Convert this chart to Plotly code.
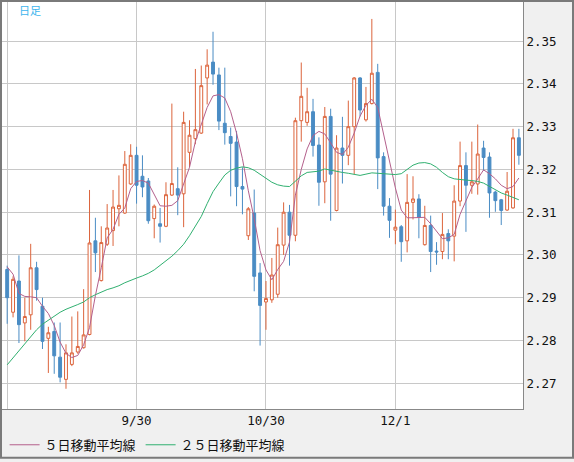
import plotly.graph_objects as go

# daily candles (index 0 = first visible day)
open_ = [2.2966, 2.2866, 2.2939, 2.2841, 2.2860, 2.2970, 2.2880, 2.2805, 2.2821, 2.2761,
         2.2709, 2.2744, 2.2773, 2.2783, 2.2814, 2.3033, 2.2940, 2.3025, 2.3057, 2.3108,
         2.3098, 2.3166, 2.3233, 2.3184, 2.3173, 2.3085, 2.3073, 2.3067, 2.3140, 2.3155,
         2.3143, 2.3240, 2.3272, 2.3285, 2.3414, 2.3451, 2.3421, 2.3308, 2.3277, 2.3264,
         2.3160, 2.3045, 2.3098, 2.2958, 2.2890, 2.2895, 2.2908, 2.3023, 2.3100, 2.3046,
         2.3314, 2.3310, 2.3335, 2.3257, 2.3171, 2.3324, 2.3104, 2.3250, 2.3233, 2.3300,
         2.3414, 2.3316, 2.3354, 2.3427, 2.3230, 2.3114, 2.3058, 2.3066, 2.3033, 2.3123,
         2.3131, 2.3024, 2.3069, 2.3009, 2.3008, 2.3050, 2.3044, 2.3126, 2.3209, 2.3163,
         2.3166, 2.3250, 2.3229, 2.3147, 2.3129, 2.3105, 2.3110, 2.3274]
high = [2.2975, 2.2950, 2.2999, 2.2900, 2.3026, 2.2984, 2.2900, 2.2832, 2.2842, 2.2842,
        2.2791, 2.2856, 2.2868, 2.2920, 2.3152, 2.3087, 2.3067, 2.3119, 2.3152, 2.3186,
        2.3243, 2.3259, 2.3253, 2.3233, 2.3180, 2.3118, 2.3110, 2.3170, 2.3354, 2.3205,
        2.3335, 2.3315, 2.3435, 2.3443, 2.3481, 2.3522, 2.3438, 2.3438, 2.3298, 2.3290,
        2.3205, 2.3112, 2.3153, 2.2981, 2.2939, 2.2993, 2.3064, 2.3123, 2.3117, 2.3321,
        2.3450, 2.3391, 2.3365, 2.3275, 2.3346, 2.3342, 2.3280, 2.3323, 2.3361, 2.3416,
        2.3416, 2.3393, 2.3552, 2.3447, 2.3240, 2.3133, 2.3106, 2.3070, 2.3189, 2.3184,
        2.3142, 2.3115, 2.3092, 2.3030, 2.3098, 2.3060, 2.3163, 2.3265, 2.3240, 2.3265,
        2.3305, 2.3267, 2.3240, 2.3150, 2.3131, 2.3194, 2.3295, 2.3295]
low = [2.2839, 2.2854, 2.2794, 2.2798, 2.2825, 2.2893, 2.2780, 2.2724, 2.2722, 2.2702,
       2.2687, 2.2740, 2.2769, 2.2781, 2.2812, 2.2960, 2.2938, 2.3021, 2.3021, 2.3067,
       2.3096, 2.3164, 2.3120, 2.3135, 2.3073, 2.3039, 2.3029, 2.3065, 2.3138, 2.3093,
       2.3065, 2.3205, 2.3259, 2.3283, 2.3352, 2.3398, 2.3292, 2.3258, 2.3137, 2.3114,
       2.3095, 2.3035, 2.2915, 2.2788, 2.2825, 2.2888, 2.2900, 2.3000, 2.2975, 2.3032,
       2.3265, 2.3302, 2.3230, 2.3115, 2.3121, 2.3080, 2.3102, 2.3167, 2.3210, 2.3189,
       2.3324, 2.3312, 2.3352, 2.3154, 2.3092, 2.3040, 2.3025, 2.2984, 2.3006, 2.3083,
       2.3039, 2.3022, 2.2960, 2.2977, 2.2990, 2.2990, 2.2985, 2.3114, 2.3054, 2.3143,
       2.3141, 2.3197, 2.3087, 2.3101, 2.3070, 2.3103, 2.3108, 2.3211]
close = [2.2900, 2.2943, 2.2837, 2.2856, 2.2970, 2.2919, 2.2798, 2.2818, 2.2764, 2.2714,
         2.2771, 2.2771, 2.2786, 2.2813, 2.3028, 2.3005, 2.3029, 2.3063, 2.3112, 2.3116,
         2.3212, 2.3233, 2.3163, 2.3159, 2.3080, 2.3114, 2.3067, 2.3141, 2.3167, 2.3140,
         2.3310, 2.3280, 2.3293, 2.3396, 2.3444, 2.3423, 2.3313, 2.3286, 2.3261, 2.3160,
         2.3154, 2.3108, 2.2950, 2.2882, 2.2898, 2.2953, 2.3024, 2.3100, 2.3046, 2.3314,
         2.3371, 2.3335, 2.3256, 2.3170, 2.3324, 2.3189, 2.3250, 2.3233, 2.3300, 2.3414,
         2.3339, 2.3354, 2.3425, 2.3227, 2.3114, 2.3081, 2.3065, 2.3031, 2.3123, 2.3131,
         2.3088, 2.3069, 2.3008, 2.3007, 2.3048, 2.3033, 2.3126, 2.3209, 2.3163, 2.3171,
         2.3236, 2.3228, 2.3145, 2.3127, 2.3104, 2.3149, 2.3274, 2.3233]

# moving averages
ma5 = [2.2972, 2.2955, 2.2910, 2.2903, 2.2902, 2.2900, 2.2880, 2.2863, 2.2835, 2.2796,
       2.2770, 2.2760, 2.2765, 2.2790, 2.2830, 2.2905, 2.2970, 2.3040, 2.3060, 2.3095,
       2.3110, 2.3155, 2.3172, 2.3174, 2.3168, 2.3140, 2.3115, 2.3114, 2.3116, 2.3127,
       2.3165, 2.3205, 2.3265, 2.3305, 2.3345, 2.3372, 2.3375, 2.3367, 2.3335, 2.3285,
       2.3225, 2.3150, 2.3085, 2.3010, 2.2965, 2.2942, 2.2966, 2.2985, 2.3030, 2.3140,
       2.3200, 2.3248, 2.3279, 2.3289, 2.3283, 2.3262, 2.3240, 2.3235, 2.3252, 2.3285,
       2.3325, 2.3350, 2.3364, 2.3345, 2.3280, 2.3215, 2.3157, 2.3105, 2.3087, 2.3087,
       2.3087, 2.3088, 2.3073, 2.3055, 2.3038, 2.3040, 2.3048, 2.3095, 2.3125, 2.3158,
       2.3178, 2.3199, 2.3190, 2.3178, 2.3163, 2.3155, 2.3160, 2.3180]
ma25 = [2.2743, 2.2759, 2.2775, 2.2791, 2.2809, 2.2825, 2.2838, 2.2848, 2.2858, 2.2866,
        2.2873, 2.2878, 2.2884, 2.2890, 2.2900, 2.2907, 2.2913, 2.2919, 2.2923, 2.2928,
        2.2935, 2.2941, 2.2946, 2.2951, 2.2957, 2.2965, 2.2975, 2.2986, 2.2997, 2.3010,
        2.3025, 2.3045, 2.3068, 2.3090, 2.3120, 2.3148, 2.3168, 2.3187, 2.3198, 2.3203,
        2.3206, 2.3204, 2.3198, 2.3189, 2.3180, 2.3170, 2.3164, 2.3161, 2.3160, 2.3172,
        2.3185, 2.3193, 2.3194, 2.3196, 2.3201, 2.3198, 2.3195, 2.3193, 2.3191, 2.3189,
        2.3186, 2.3189, 2.3192, 2.3191, 2.3190, 2.3188, 2.3188, 2.3190, 2.3200, 2.3210,
        2.3215, 2.3216, 2.3213, 2.3205, 2.3193, 2.3183, 2.3178, 2.3176, 2.3175, 2.3174,
        2.3172, 2.3168, 2.3160, 2.3152, 2.3145, 2.3140, 2.3135, 2.3129]

day = list(range(len(close)))
tick_pos = [0, 22, 44, 66]
tick_text = ["", "9/30", "10/30", "12/1"]
price_ticks = [2.27, 2.28, 2.29, 2.30, 2.31, 2.32, 2.33, 2.34, 2.35]

RED = "#dc643c"
BLUE = "#4a8cc4"
TICKFONT = dict(family="DejaVu Sans Mono", size=12.5, color="#111111")

fig = go.Figure()
fig.add_trace(go.Candlestick(
    x=day, open=open_, high=high, low=low, close=close,
    increasing=dict(line=dict(color=RED, width=1), fillcolor="white"),
    decreasing=dict(line=dict(color=BLUE, width=1), fillcolor=BLUE),
    showlegend=False, hoverinfo="skip"))
fig.add_trace(go.Scatter(x=day, y=ma5, mode="lines", name="５日移動平均線",
                         line=dict(color="#b4608c", width=1)))
fig.add_trace(go.Scatter(x=day, y=ma25, mode="lines", name="２５日移動平均線",
                         line=dict(color="#30b070", width=1)))

fig.update_layout(
    width=574, height=462,
    margin=dict(l=2, r=51, t=2, b=50),
    paper_bgcolor="#f0f0f0",
    plot_bgcolor="white",
    boxgap=0.3,
    showlegend=True,
    legend=dict(orientation="h", x=0.005, xanchor="left", y=-0.088, yanchor="middle",
                font=dict(family="Noto Sans CJK JP", size=13, color="#111111"),
                bgcolor="rgba(0,0,0,0)"),
    xaxis=dict(range=[-0.88, 87.7], tickvals=tick_pos, ticktext=tick_text,
               showgrid=True, gridcolor="#c8c8c8", gridwidth=1, zeroline=False,
               showline=True, linecolor="#888888", linewidth=1, mirror=True,
               automargin=False, ticks="", tickfont=TICKFONT,
               rangeslider=dict(visible=False)),
    yaxis=dict(range=[2.26397, 2.35916], side="right", tickvals=price_ticks,
               ticktext=["%.2f" % v for v in price_ticks],
               showgrid=True, gridcolor="#c8c8c8", gridwidth=1, zeroline=False,
               showline=True, linecolor="#888888", linewidth=1, mirror=True,
               automargin=False, ticks="", tickfont=TICKFONT),
    hovermode=False,
)

fig.add_annotation(text="日足", xref="paper", yref="paper", x=0.0282, y=0.98,
                   xanchor="left", yanchor="middle", showarrow=False,
                   font=dict(family="Noto Sans CJK JP", size=11, color="#3db5ee"))

# outer frame of the whole widget
fig.add_shape(type="rect", xref="paper", yref="paper",
              x0=-0.00192, x1=1.09597, y0=-0.11951, y1=1.00244,
              line=dict(color="#7a7a7a", width=2), fillcolor="rgba(0,0,0,0)")

# page body has a default margin; drop it so the chart sits at the window corner
fig.write_html("out.html", config={"displayModeBar": False},
               post_script="document.body.style.margin='0';")
